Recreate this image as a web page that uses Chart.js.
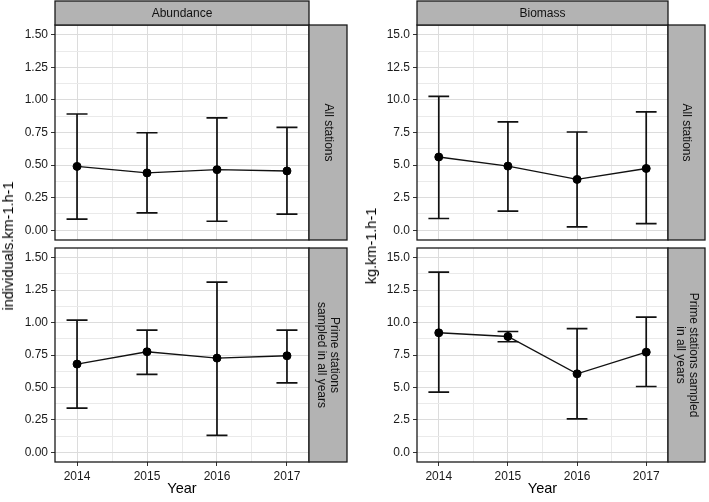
<!DOCTYPE html>
<html>
<head>
<meta charset="utf-8">
<script src="https://cdn.jsdelivr.net/npm/chart.js@4"></script>
<style>
  body { margin: 0; background: #fff; }
  #wrap { position: relative; width: 709px; height: 502px; overflow: hidden; font-family: 'Liberation Sans', Arial, sans-serif; }
  canvas { position: absolute; }
  .ytitle { position: absolute; font-size: 14.5px; color: #000; white-space: nowrap; transform: translate(-50%, -50%) rotate(-90deg); }
</style>
</head>
<body>
<div id="wrap">
  <canvas id="abTop" width="348" height="241" style="left:0;top:0"></canvas>
  <canvas id="abBot" width="348" height="261" style="left:0;top:241px"></canvas>
  <canvas id="bmTop" width="361" height="241" style="left:348px;top:0"></canvas>
  <canvas id="bmBot" width="361" height="261" style="left:348px;top:241px"></canvas>
  <div class="ytitle" style="left:8px;top:246px">individuals.km-1.h-1</div>
  <div class="ytitle" style="left:371px;top:246px">kg.km-1.h-1</div>
</div>
<script>
// values (mean with lower / upper error bar)
const years = [2014, 2015, 2016, 2017];

const abundanceAllMean = [0.49, 0.44, 0.465, 0.455];
const abundanceAllLow = [0.085, 0.133, 0.069, 0.123];
const abundanceAllHigh = [0.892, 0.748, 0.862, 0.79];

const abundancePrimeMean = [0.68, 0.775, 0.726, 0.744];
const abundancePrimeLow = [0.34, 0.60, 0.131, 0.535];
const abundancePrimeHigh = [1.019, 0.942, 1.312, 0.942];

const biomassAllMean = [5.62, 4.92, 3.9, 4.74];
const biomassAllLow = [0.9, 1.46, 0.26, 0.51];
const biomassAllHigh = [10.28, 8.31, 7.54, 9.08];

const biomassPrimeMean = [9.21, 8.93, 6.05, 7.72];
const biomassPrimeLow = [4.63, 8.52, 2.57, 5.07];
const biomassPrimeHigh = [13.89, 9.31, 9.54, 10.42];

const abundanceTicks = [0, 0.25, 0.5, 0.75, 1, 1.25, 1.5];
const biomassTicks = [0, 2.5, 5, 7.5, 10, 12.5, 15];

Chart.defaults.font.family = "'Liberation Sans', Arial, sans-serif";

// major ticks plus the half-way minor grid lines
function withMinor(ticks) {
  const out = [];
  ticks.forEach((t, i) => {
    out.push(t);
    if (i < ticks.length - 1) out.push((t + ticks[i + 1]) / 2);
  });
  return out;
}

const errorBars = {
  id: 'errorBars',
  beforeDatasetsDraw(chart) {
    const { ctx, scales: { x, y } } = chart;
    ctx.save();
    ctx.strokeStyle = '#111';
    ctx.lineWidth = 1.7;
    chart.data.datasets.forEach(ds => {
      ds.data.forEach((p, i) => {
        const px = x.getPixelForValue(p.x);
        const w = x.getPixelForValue(p.x + 0.15) - px;
        const lo = y.getPixelForValue(ds.low[i]);
        const hi = y.getPixelForValue(ds.high[i]);
        ctx.beginPath();
        ctx.moveTo(px, lo); ctx.lineTo(px, hi);
        ctx.moveTo(px - w, lo); ctx.lineTo(px + w, lo);
        ctx.moveTo(px - w, hi); ctx.lineTo(px + w, hi);
        ctx.stroke();
      });
    });
    ctx.restore();
  }
};

const facetStrips = {
  id: 'facetStrips',
  afterDraw(chart, args, opts) {
    const { ctx, chartArea: a } = chart;
    ctx.save();
    ctx.lineWidth = 1.3;
    ctx.strokeStyle = '#1a1a1a';
    ctx.strokeRect(a.left, a.top, a.right - a.left, a.bottom - a.top);
    ctx.font = "12px 'Liberation Sans', Arial, sans-serif";
    ctx.textAlign = 'center';
    ctx.textBaseline = 'middle';
    if (opts.top) {
      ctx.fillStyle = '#b3b3b3';
      ctx.fillRect(a.left, 1, a.right - a.left, a.top - 1);
      ctx.strokeRect(a.left, 1, a.right - a.left, a.top - 1);
      ctx.fillStyle = '#111';
      ctx.fillText(opts.top, (a.left + a.right) / 2, (a.top + 1) / 2 + 1);
    }
    if (opts.right) {
      const w = opts.stripWidth;
      ctx.fillStyle = '#b3b3b3';
      ctx.fillRect(a.right, a.top, w, a.bottom - a.top);
      ctx.strokeRect(a.right, a.top, w, a.bottom - a.top);
      ctx.fillStyle = '#111';
      ctx.translate(a.right + w / 2, (a.top + a.bottom) / 2);
      ctx.rotate(Math.PI / 2);
      const n = opts.right.length;
      opts.right.forEach((line, i) => {
        ctx.fillText(line, 0, (i - (n - 1) / 2) * 13);
      });
    }
    ctx.restore();
  }
};

function makePanel(id, c) {
  const yAll = withMinor(c.yTicks);
  const xAll = withMinor(years);
  const isMajorY = v => c.yTicks.includes(v);
  const isMajorX = v => years.includes(v);
  return new Chart(document.getElementById(id), {
    type: 'line',
    data: {
      datasets: [{
        data: years.map((yr, i) => ({ x: yr, y: c.mean[i] })),
        low: c.low,
        high: c.high,
        borderColor: '#111',
        borderWidth: 1.4,
        pointRadius: 4,
        pointBackgroundColor: '#000',
        pointBorderColor: '#000',
        pointBorderWidth: 1,
        tension: 0
      }]
    },
    options: {
      responsive: false,
      animation: false,
      layout: { padding: c.padding, autoPadding: false },
      plugins: {
        legend: { display: false },
        tooltip: { enabled: false },
        facetStrips: { top: c.top, right: c.right, stripWidth: c.stripWidth }
      },
      scales: {
        x: {
          type: 'linear',
          min: 2013.685,
          max: 2017.315,
          afterBuildTicks: s => { s.ticks = xAll.map(v => ({ value: v })); },
          afterFit: s => {
            s.height = c.showX ? 40 : 0;
            s.paddingLeft = 0; s.paddingRight = 0;
          },
          ticks: {
            display: c.showX,
            autoSkip: false,
            maxRotation: 0,
            color: '#1a1a1a',
            font: { size: 12 },
            padding: 3,
            callback: v => isMajorX(v) ? String(v) : ''
          },
          grid: {
            drawTicks: c.showX,
            tickLength: 4,
            color: ctx => isMajorX(ctx.tick.value) ? '#dcdcdc' : '#eaeaea',
            tickColor: ctx => isMajorX(ctx.tick.value) ? '#333' : 'rgba(0,0,0,0)'
          },
          border: { display: false },
          title: {
            display: c.showX,
            text: 'Year',
            color: '#000',
            font: { size: 14.5 },
            padding: { top: 0, bottom: 4 }
          }
        },
        y: {
          min: c.yMin,
          max: c.yMax,
          afterBuildTicks: s => { s.ticks = yAll.map(v => ({ value: v })); },
          afterFit: s => {
            s.width = c.yWidth;
            s.paddingTop = 0; s.paddingBottom = 0;
          },
          ticks: {
            autoSkip: false,
            color: '#1a1a1a',
            font: { size: 12 },
            padding: 3,
            callback: v => isMajorY(v) ? v.toFixed(c.decimals) : ''
          },
          grid: {
            tickLength: 4,
            color: ctx => isMajorY(ctx.tick.value) ? '#dcdcdc' : '#eaeaea',
            tickColor: ctx => isMajorY(ctx.tick.value) ? '#333' : 'rgba(0,0,0,0)'
          },
          border: { display: false }
        }
      }
    },
    plugins: [errorBars, facetStrips]
  });
}

makePanel('abTop', {
  mean: abundanceAllMean, low: abundanceAllLow, high: abundanceAllHigh,
  yTicks: abundanceTicks, decimals: 2, yMin: -0.075, yMax: 1.575, yWidth: 55,
  padding: { top: 25, right: 39, bottom: 1, left: 0 },
  top: 'Abundance', right: ['All stations'], stripWidth: 38, showX: false
});
makePanel('abBot', {
  mean: abundancePrimeMean, low: abundancePrimeLow, high: abundancePrimeHigh,
  yTicks: abundanceTicks, decimals: 2, yMin: -0.075, yMax: 1.575, yWidth: 55,
  padding: { top: 7, right: 39, bottom: 0, left: 0 },
  top: null, right: ['Prime stations', 'sampled in all years'], stripWidth: 38, showX: true
});
makePanel('bmTop', {
  mean: biomassAllMean, low: biomassAllLow, high: biomassAllHigh,
  yTicks: biomassTicks, decimals: 1, yMin: -0.75, yMax: 15.75, yWidth: 69,
  padding: { top: 25, right: 41, bottom: 1, left: 0 },
  top: 'Biomass', right: ['All stations'], stripWidth: 37, showX: false
});
makePanel('bmBot', {
  mean: biomassPrimeMean, low: biomassPrimeLow, high: biomassPrimeHigh,
  yTicks: biomassTicks, decimals: 1, yMin: -0.75, yMax: 15.75, yWidth: 69,
  padding: { top: 7, right: 41, bottom: 0, left: 0 },
  top: null, right: ['Prime stations sampled', 'in all years'], stripWidth: 37, showX: true
});
</script>
</body>
</html>
